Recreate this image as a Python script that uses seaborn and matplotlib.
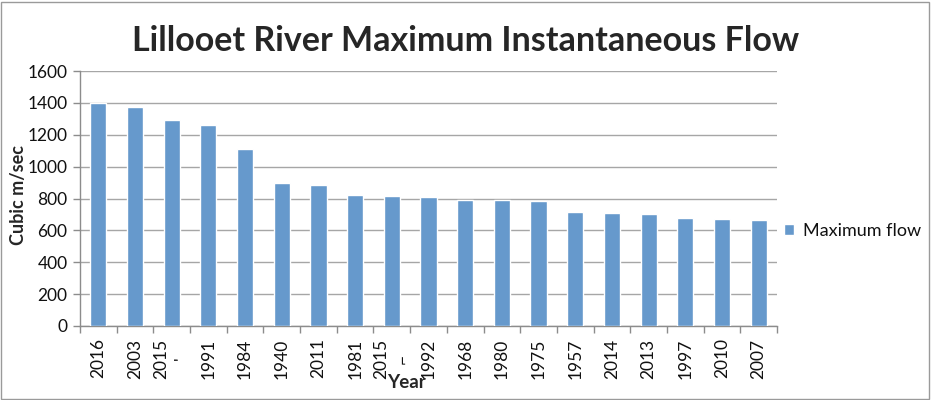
import matplotlib
matplotlib.use("Agg")
import matplotlib.pyplot as plt
import seaborn as sns
import pandas as pd
import numpy as np
from matplotlib.patches import Rectangle, Patch

years = ["2016", "2003", "2015\n'", "1991", "1984", "1940", "2011", "1981", "2015\n⌐",
         "1992", "1968", "1980", "1975", "1957", "2014", "2013", "1997", "2010", "2007"]
flows = [1400, 1372, 1295, 1262, 1112, 900, 882, 825, 815, 808, 792, 790, 782,
         717, 712, 700, 677, 673, 662]

df = pd.DataFrame({"pos": [str(i) for i in range(len(years))], "flow": flows})

sns.set_theme(style="white")
plt.rcParams['font.family'] = ['Lato', 'DejaVu Sans']

fig = plt.figure(figsize=(9.37, 4.0), dpi=100)
ax = fig.add_axes([80/937, 1-326/400, (777-80)/937, (326-71)/400])

bar_color = "#6699CC"
sns.barplot(data=df, x="pos", y="flow", color=bar_color, width=0.44, ax=ax,
            saturation=1, zorder=3)

ax.set_ylim(0, 1600)
ax.set_xlim(-0.5, len(years) - 0.5)
ax.set_yticks(np.arange(0, 1601, 200))
ax.set_yticklabels([str(v) for v in range(0, 1601, 200)], fontsize=12.5,
                   color="#111111")
ax.set_xticks(range(len(years)))
ax.set_xticklabels(years, rotation=90, fontsize=12.5, va="top", ha="center",
                   linespacing=1.4, color="#111111")
ax.set_xticks(np.arange(-0.5, len(years), 1), minor=True)
ax.tick_params(axis="x", which="major", length=0, pad=9)
ax.tick_params(axis="x", which="minor", length=5, width=1, color="#8c8c8c",
               direction="out", bottom=True)
ax.tick_params(axis="y", which="major", length=5, width=1, color="#8c8c8c",
               direction="out", left=True, pad=4)

ax.yaxis.grid(True, color="#a6a6a6", linewidth=1, zorder=0)
ax.set_axisbelow(True)
for s in ["top", "right"]:
    ax.spines[s].set_visible(False)
for s in ["left", "bottom"]:
    ax.spines[s].set_color("#8c8c8c")
    ax.spines[s].set_linewidth(1)

ax.set_xlabel("")
ax.set_ylabel("")
fig.text(406/937, 1-383/400, "Year", fontsize=13.5, fontweight="bold",
         ha="center", va="center")
fig.text(19/937, 1-195/400, "Cubic m/sec", fontsize=13, fontweight="bold",
         rotation=90, ha="center", va="center")
fig.text(466/937, 1-41/400, "Lillooet River Maximum Instantaneous Flow",
         fontsize=24.5, fontweight="bold", ha="center", va="center")

leg = ax.legend(handles=[Patch(facecolor=bar_color, label="Maximum flow")],
                loc="center left", bbox_to_anchor=(768/937, 1-231/400),
                bbox_transform=fig.transFigure, frameon=False, fontsize=13,
                handlelength=0.55, handleheight=0.55, handletextpad=0.5)
for t in leg.get_texts():
    t.set_color("#111111")

fig.patches.append(Rectangle((0.5/937, 1.5/400), 929/937, 397/400,
                             transform=fig.transFigure, fill=False,
                             edgecolor="#9a9a9a", linewidth=1))

fig.savefig("out.png", dpi=100)
